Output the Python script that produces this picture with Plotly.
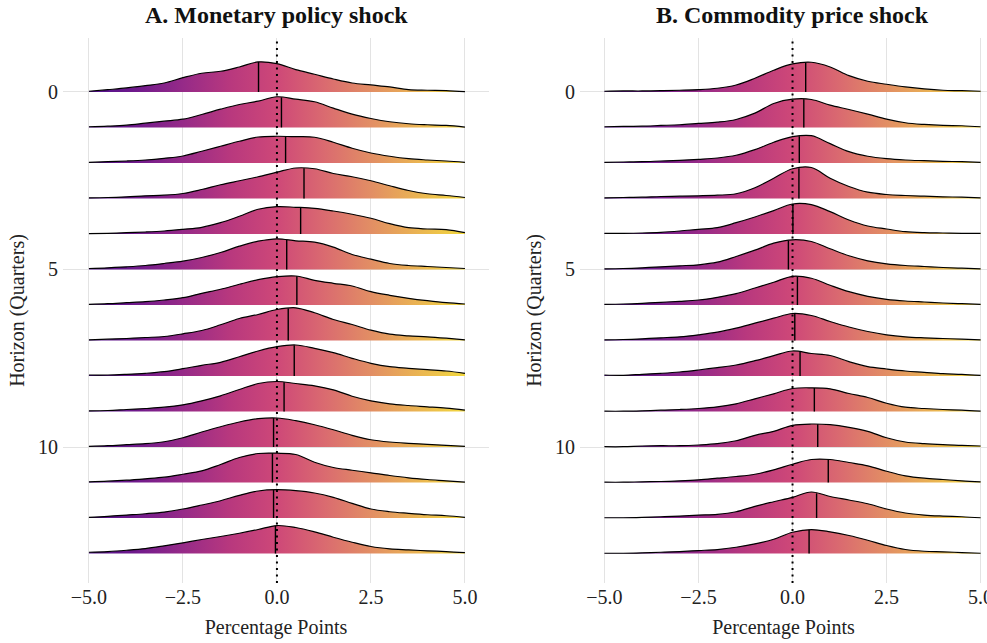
import numpy as np
import plotly.graph_objects as go

# ---------------- data ----------------
X_GRID = [-5.0, -4.5, -4.0, -3.5, -3.0, -2.5, -2.0, -1.5, -1.0, -0.5, 0.0,
          0.5, 1.0, 1.5, 2.0, 2.5, 3.0, 3.5, 4.0, 4.5, 5.0]
HORIZONS = list(range(14))
Y_TICKS = [0, 5, 10]
X_TICKS = [-5.0, -2.5, 0.0, 2.5, 5.0]

# Density estimates per horizon (panel A: monetary policy shock)
MP_DENS = [
    [0.007, 0.023, 0.040, 0.063, 0.090, 0.143, 0.187, 0.207, 0.250, 0.300, 0.283, 0.223, 0.177, 0.130, 0.090, 0.070, 0.050, 0.023, 0.017, 0.013, 0.003],
    [0.007, 0.013, 0.023, 0.043, 0.063, 0.083, 0.130, 0.183, 0.230, 0.263, 0.307, 0.283, 0.257, 0.193, 0.133, 0.090, 0.057, 0.037, 0.027, 0.020, 0.003],
    [0.007, 0.013, 0.020, 0.030, 0.047, 0.070, 0.117, 0.167, 0.217, 0.260, 0.267, 0.263, 0.257, 0.207, 0.147, 0.100, 0.067, 0.043, 0.030, 0.020, 0.007],
    [0.007, 0.010, 0.017, 0.027, 0.033, 0.050, 0.090, 0.137, 0.177, 0.217, 0.263, 0.305, 0.297, 0.250, 0.217, 0.177, 0.127, 0.080, 0.047, 0.030, 0.010],
    [0.003, 0.007, 0.013, 0.020, 0.030, 0.047, 0.067, 0.113, 0.177, 0.247, 0.273, 0.267, 0.257, 0.230, 0.197, 0.157, 0.103, 0.063, 0.050, 0.043, 0.013],
    [0.010, 0.017, 0.027, 0.040, 0.060, 0.083, 0.120, 0.170, 0.233, 0.283, 0.307, 0.287, 0.273, 0.223, 0.150, 0.103, 0.060, 0.040, 0.030, 0.020, 0.010],
    [0.007, 0.013, 0.023, 0.033, 0.050, 0.073, 0.117, 0.157, 0.207, 0.253, 0.283, 0.290, 0.247, 0.217, 0.190, 0.133, 0.097, 0.067, 0.043, 0.023, 0.010],
    [0.007, 0.013, 0.020, 0.030, 0.040, 0.067, 0.100, 0.157, 0.220, 0.260, 0.310, 0.327, 0.277, 0.210, 0.160, 0.103, 0.063, 0.047, 0.037, 0.023, 0.007],
    [0.010, 0.010, 0.017, 0.027, 0.043, 0.073, 0.107, 0.137, 0.193, 0.250, 0.293, 0.310, 0.277, 0.233, 0.177, 0.127, 0.093, 0.077, 0.063, 0.050, 0.027],
    [0.007, 0.010, 0.020, 0.030, 0.043, 0.067, 0.107, 0.157, 0.220, 0.280, 0.300, 0.280, 0.257, 0.217, 0.153, 0.107, 0.077, 0.060, 0.047, 0.033, 0.013],
    [0.007, 0.013, 0.023, 0.033, 0.053, 0.093, 0.150, 0.203, 0.250, 0.283, 0.290, 0.263, 0.223, 0.173, 0.117, 0.073, 0.050, 0.037, 0.027, 0.017, 0.007],
    [0.007, 0.013, 0.023, 0.037, 0.053, 0.083, 0.117, 0.180, 0.250, 0.290, 0.293, 0.280, 0.203, 0.150, 0.123, 0.097, 0.070, 0.047, 0.030, 0.017, 0.003],
    [0.007, 0.017, 0.030, 0.043, 0.060, 0.090, 0.130, 0.173, 0.227, 0.270, 0.283, 0.273, 0.250, 0.207, 0.147, 0.090, 0.063, 0.047, 0.033, 0.023, 0.007],
    [0.013, 0.020, 0.033, 0.050, 0.077, 0.107, 0.140, 0.170, 0.203, 0.240, 0.280, 0.260, 0.217, 0.163, 0.113, 0.070, 0.047, 0.037, 0.027, 0.020, 0.010],
]
MP_CENTRE = [-0.49, 0.12, 0.23, 0.72, 0.63, 0.26, 0.53, 0.30, 0.46, 0.19, -0.09, -0.12, -0.09, -0.04]

# Density estimates per horizon (panel B: commodity price shock)
CP_DENS = [
    [0.007, 0.010, 0.010, 0.013, 0.017, 0.023, 0.037, 0.070, 0.137, 0.217, 0.280, 0.297, 0.250, 0.163, 0.107, 0.077, 0.050, 0.030, 0.017, 0.013, 0.007],
    [0.007, 0.010, 0.013, 0.020, 0.027, 0.040, 0.053, 0.080, 0.143, 0.240, 0.283, 0.280, 0.223, 0.180, 0.133, 0.083, 0.047, 0.030, 0.020, 0.017, 0.007],
    [0.007, 0.010, 0.013, 0.020, 0.027, 0.037, 0.050, 0.077, 0.133, 0.207, 0.263, 0.273, 0.193, 0.113, 0.067, 0.043, 0.030, 0.023, 0.017, 0.013, 0.007],
    [0.007, 0.010, 0.013, 0.020, 0.023, 0.027, 0.033, 0.047, 0.107, 0.203, 0.297, 0.310, 0.203, 0.120, 0.063, 0.040, 0.030, 0.023, 0.017, 0.013, 0.007],
    [0.007, 0.007, 0.010, 0.017, 0.030, 0.047, 0.063, 0.113, 0.170, 0.233, 0.300, 0.293, 0.223, 0.140, 0.080, 0.050, 0.023, 0.013, 0.010, 0.007, 0.007],
    [0.007, 0.010, 0.017, 0.027, 0.037, 0.047, 0.073, 0.130, 0.193, 0.263, 0.297, 0.280, 0.207, 0.137, 0.087, 0.057, 0.040, 0.030, 0.020, 0.013, 0.007],
    [0.007, 0.010, 0.017, 0.027, 0.037, 0.050, 0.077, 0.113, 0.170, 0.227, 0.287, 0.267, 0.197, 0.133, 0.087, 0.057, 0.040, 0.030, 0.020, 0.013, 0.007],
    [0.007, 0.010, 0.017, 0.027, 0.037, 0.057, 0.083, 0.123, 0.173, 0.223, 0.270, 0.250, 0.190, 0.135, 0.090, 0.057, 0.037, 0.027, 0.020, 0.013, 0.007],
    [0.010, 0.007, 0.017, 0.027, 0.040, 0.060, 0.083, 0.110, 0.153, 0.203, 0.250, 0.225, 0.205, 0.143, 0.093, 0.070, 0.050, 0.037, 0.023, 0.017, 0.007],
    [0.003, 0.003, 0.007, 0.013, 0.020, 0.030, 0.047, 0.077, 0.127, 0.177, 0.230, 0.237, 0.227, 0.180, 0.140, 0.083, 0.043, 0.030, 0.020, 0.013, 0.003],
    [0.003, 0.003, 0.010, 0.013, 0.013, 0.020, 0.033, 0.063, 0.117, 0.157, 0.217, 0.230, 0.223, 0.197, 0.157, 0.093, 0.050, 0.033, 0.023, 0.017, 0.010],
    [0.003, 0.003, 0.007, 0.010, 0.017, 0.027, 0.043, 0.060, 0.083, 0.127, 0.183, 0.230, 0.230, 0.200, 0.167, 0.113, 0.067, 0.043, 0.030, 0.017, 0.007],
    [0.003, 0.003, 0.007, 0.013, 0.020, 0.030, 0.037, 0.063, 0.117, 0.163, 0.207, 0.260, 0.215, 0.180, 0.143, 0.090, 0.050, 0.030, 0.020, 0.013, 0.003],
    [0.003, 0.003, 0.007, 0.013, 0.020, 0.030, 0.040, 0.063, 0.097, 0.143, 0.213, 0.240, 0.217, 0.180, 0.133, 0.080, 0.040, 0.023, 0.017, 0.010, 0.003],
]
CP_CENTRE = [0.35, 0.30, 0.18, 0.17, 0.01, -0.11, 0.13, 0.06, 0.20, 0.58, 0.67, 0.95, 0.64, 0.44]

TITLES = ["A. Monetary policy shock", "B. Commodity price shock"]

# ---------------- styling ----------------
W, H = 987, 643
FONT = "Liberation Serif"
SCALE = 100 / 35.5  # density -> horizon units
# plasma-like gradient, slightly muted as in the reference
CS = [
    [0.0, "rgb(78,16,140)"],
    [0.125, "rgb(112,26,140)"],
    [0.25, "rgb(150,42,136)"],
    [0.375, "rgb(184,56,126)"],
    [0.5, "rgb(206,72,120)"],
    [0.625, "rgb(218,106,112)"],
    [0.75, "rgb(226,142,100)"],
    [0.875, "rgb(234,180,82)"],
    [1.0, "rgb(242,216,62)"],
]
GRID = "#e3e3e3"

fig = go.Figure()


def add_panel(dens, centres, xa, ya):
    xg = np.array(X_GRID)
    for h, d in zip(HORIZONS, dens):
        d = np.array(d)
        top = h - d * SCALE
        fig.add_trace(go.Scatter(x=[X_GRID[0], X_GRID[-1]], y=[h, h], mode="lines",
                                 line=dict(width=0), hoverinfo="skip", showlegend=False,
                                 xaxis=xa, yaxis=ya))
        fig.add_trace(go.Scatter(x=xg, y=top, mode="lines", line=dict(color="black", width=1.2, shape="spline"),
                                 fill="tonexty",
                                 fillgradient=dict(type="horizontal", colorscale=CS, start=-5, stop=5),
                                 hoverinfo="skip", showlegend=False, xaxis=xa, yaxis=ya))
    for h, d, m in zip(HORIZONS, dens, centres):
        hm = np.interp(m, xg, np.array(d)) * SCALE
        fig.add_trace(go.Scatter(x=[m, m], y=[h, h - hm], mode="lines",
                                 line=dict(color="black", width=1.4),
                                 hoverinfo="skip", showlegend=False, xaxis=xa, yaxis=ya))


add_panel(MP_DENS, MP_CENTRE, "x", "y")
add_panel(CP_DENS, CP_CENTRE, "x2", "y2")

y_bot = 1 - 583 / H
y_top = 1 - 38 / H
dom1 = [63 / W, 489 / W]
dom2 = [580 / W, 1.0]

axis_common = dict(showline=False, zeroline=False, ticks="", showgrid=True, gridcolor=GRID, gridwidth=1,
                   automargin=False, tickfont=dict(family=FONT, size=20, color="#222"))
xcommon = dict(axis_common, tickmode="array", tickvals=X_TICKS, tickformat=".1f",
               title=dict(text="Percentage Points", font=dict(family=FONT, size=20, color="#222"), standoff=12))
ycommon = dict(axis_common, tickmode="array", tickvals=Y_TICKS, ticklabelstandoff=4,
               title=dict(text="Horizon (Quarters)", font=dict(family=FONT, size=20, color="#222"), standoff=8))

fig.update_layout(
    width=W, height=H, margin=dict(l=0, r=0, t=0, b=0, autoexpand=False),
    plot_bgcolor="white", paper_bgcolor="white", showlegend=False,
    xaxis=dict(xcommon, domain=dom1, range=[-5.69, 5.64], anchor="y"),
    yaxis=dict(ycommon, domain=[y_bot, y_top], range=[13.83, -1.52], anchor="x"),
    xaxis2=dict(xcommon, domain=dom2, range=[-5.65, 5.17], anchor="y2", ticklabeloverflow="allow"),
    yaxis2=dict(ycommon, domain=[y_bot, y_top], range=[13.83, -1.52], anchor="x2"),
)

for xr, yr in [("x", "y"), ("x2", "y2")]:
    fig.add_shape(type="line", xref=xr, yref=f"{yr} domain", x0=0, x1=0, y0=0, y1=1,
                  line=dict(color="black", width=2, dash="2px,4.5px"), layer="above")

for xr, t in zip(["x", "x2"], TITLES):
    fig.add_annotation(x=0, xref=xr, y=1 - 15 / H, yref="paper", text=f"<b>{t}</b>", showarrow=False,
                       font=dict(family=FONT, size=24, color="#111"), yanchor="middle")

fig.write_html("out.html")
